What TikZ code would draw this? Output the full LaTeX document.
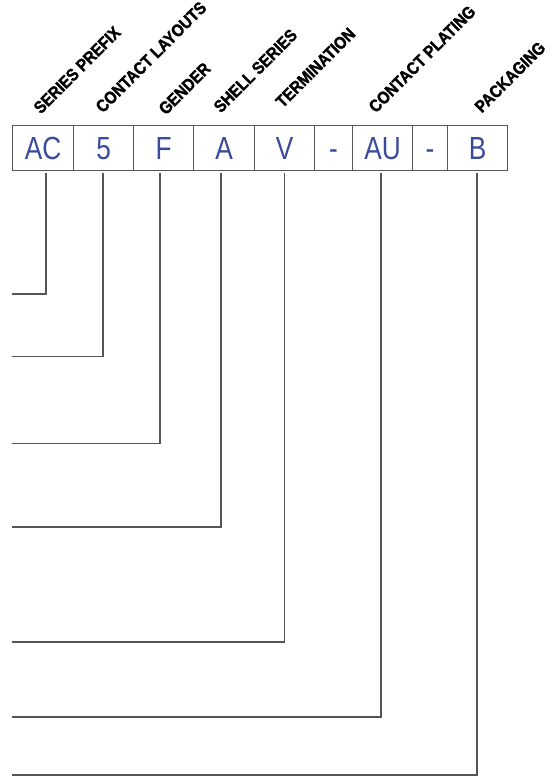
\documentclass[tikz,border=0pt]{standalone}
\usepackage{fontspec}
\setmainfont{Liberation Sans}
\newfontfamily\labfont[FakeStretch=0.88,FakeBold=1.8]{Liberation Sans Bold}
\newfontfamily\codefont[FakeStretch=0.82]{Liberation Sans}
\definecolor{codeblue}{HTML}{3A4A9C}
\definecolor{linegray}{HTML}{555555}
\begin{document}
\begin{tikzpicture}[x=1pt,y=-1pt,
  cell/.style={draw=linegray,line width=1.2pt,minimum height=45pt,inner sep=0pt,
    text height=23pt,text depth=0pt,
    font=\codefont\fontsize{32}{32}\selectfont,text=codeblue,anchor=north west},
  lab/.style={rotate=45,anchor=south west,inner sep=0pt,
    font=\labfont\fontsize{17.2}{17.2}\selectfont},
  lead/.style={draw=linegray,line width=1.1pt}]
\useasboundingbox (0,0) rectangle (550,776);
% boxes
\node[cell,minimum width=61pt] (c1) at (12,125) {AC};
\node[cell,minimum width=60pt] (c2) at (73,125) {5};
\node[cell,minimum width=60pt] (c3) at (133,125) {F};
\node[cell,minimum width=61pt] (c4) at (193,125) {A};
\node[cell,minimum width=60pt] (c5) at (254,125) {V};
\node[cell,minimum width=38pt] (c6) at (314,125) {-};
\node[cell,minimum width=60pt] (c7) at (352,125) {AU};
\node[cell,minimum width=35pt] (c8) at (412,125) {-};
\node[cell,minimum width=60pt] (c9) at (447,125) {B};
% labels
\node[lab] (l1) at (41,115) {SERIES PREFIX};
\node[lab] (l2) at (103,114) {CONTACT LAYOUTS};
\node[lab] (l3) at (166,116) {GENDER};
\node[lab] (l4) at (221,114) {SHELL SERIES};
\node[lab] (l5) at (283,109) {TERMINATION};
\node[lab] (l6) at (376,114) {CONTACT PLATING};
\node[lab] (l7) at (482,114) {PACKAGING};
% leader end points
\coordinate (e1) at (12,294);
\coordinate (e2) at (12,356.5);
\coordinate (e3) at (12,443.5);
\coordinate (e4) at (12,527);
\coordinate (e5) at (12,642);
\coordinate (e6) at (12,717);
\coordinate (e7) at (12,775);
\draw[lead] (46,173) |- (e1);
\draw[lead] (103,173) |- (e2);
\draw[lead] (160,173) |- (e3);
\draw[lead] (221,173) |- (e4);
\draw[lead] (284.5,173) |- (e5);
\draw[lead] (381,173) |- (e6);
\draw[lead] (477,173) |- (e7);
\end{tikzpicture}
\end{document}
